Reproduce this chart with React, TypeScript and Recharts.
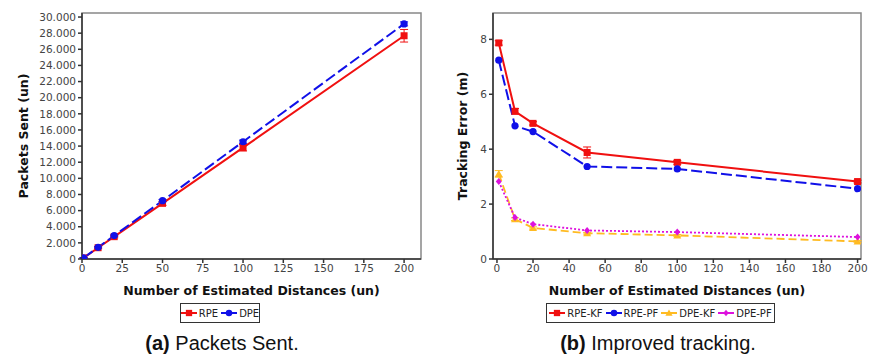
import React from 'react';
import { LineChart, Line, XAxis, YAxis, ErrorBar, ReferenceArea } from 'recharts';

// shared x values (number of estimated distances)
const distances = [1, 10, 20, 50, 100, 200];

// (a) packets sent
const rpeSent = [130, 1400, 2770, 6900, 13800, 27680];
const rpeSentErr = [40, 120, 150, 250, 400, 780];
const dpeSent = [150, 1450, 2900, 7230, 14540, 29150];
const dpeSentErr = [40, 80, 100, 150, 200, 250];
const sentTicks = [0, 2000, 4000, 6000, 8000, 10000, 12000, 14000, 16000, 18000, 20000, 22000, 24000, 26000, 28000, 30000];
const sentDistTicks = [0, 25, 50, 75, 100, 125, 150, 175, 200];

// (b) tracking error
const rpeKf = [7.87, 5.38, 4.94, 3.88, 3.52, 2.82];
const rpeKfErr = [0.08, 0.1, 0.06, 0.2, 0.07, 0.05];
const rpePf = [7.24, 4.85, 4.64, 3.37, 3.28, 2.56];
const dpeKf = [3.1, 1.45, 1.13, 0.94, 0.86, 0.64];
const dpeKfErr = [0.12, 0.05, 0.04, 0.03, 0.03, 0.03];
const dpePf = [2.82, 1.51, 1.27, 1.04, 0.98, 0.8];
const errorTicks = [0, 2, 4, 6, 8];
const errorDistTicks = [0, 20, 40, 60, 80, 100, 120, 140, 160, 180, 200];

const RED = '#f01010';
const BLUE = '#1010e8';
const ORANGE = '#ffbb22';
const MAGENTA = '#dd11dd';

const sentData = distances.map((d, i) => ({
  d, rpe: rpeSent[i], rpeErr: rpeSentErr[i], dpe: dpeSent[i], dpeErr: dpeSentErr[i],
}));

const errorData = distances.map((d, i) => ({
  d, rpeKf: rpeKf[i], rpeKfErr: rpeKfErr[i], rpePf: rpePf[i],
  dpeKf: dpeKf[i], dpeKfErr: dpeKfErr[i], dpePf: dpePf[i],
}));

const fmtDots = (v: number) => String(v).replace(/\B(?=(\d{3})+(?!\d))/g, '.');

type Shape = 'square' | 'circle' | 'triangle' | 'diamond';

const marker = (shape: Shape, color: string, cx: number, cy: number, s = 1) => {
  if (shape === 'square') return <rect x={cx - 3.5 * s} y={cy - 3.5 * s} width={7 * s} height={7 * s} fill={color} />;
  if (shape === 'circle') return <circle cx={cx} cy={cy} r={3.6 * s} fill={color} />;
  if (shape === 'triangle')
    return <polygon points={`${cx},${cy - 4 * s} ${cx + 4 * s},${cy + 3 * s} ${cx - 4 * s},${cy + 3 * s}`} fill={color} />;
  return <polygon points={`${cx},${cy - 3.5 * s} ${cx + 3 * s},${cy} ${cx},${cy + 3.5 * s} ${cx - 3 * s},${cy}`} fill={color} />;
};

const dotOf = (shape: Shape, color: string) => (props: any) => {
  const { cx, cy, index } = props;
  if (cx == null || cy == null) return <g key={index} />;
  return <g key={index}>{marker(shape, color, cx, cy)}</g>;
};

const tickStyle = { fontSize: 10.5, fill: '#444', fontFamily: 'DejaVu Sans' };
const labelStyle = { fontSize: 12.5, fontWeight: 'bold' as const, fill: '#111', fontFamily: 'DejaVu Sans', textAnchor: 'middle' as const };

interface LegendItem { name: string; color: string; shape: Shape; }

const LegendBox = ({ items, left, width }: { items: LegendItem[]; left: number; width: number }) => (
  <div style={{
    position: 'absolute', left, top: 303, width, height: 20, boxSizing: 'border-box',
    border: '1px solid #333', display: 'flex', alignItems: 'center', justifyContent: 'center',
    fontFamily: 'DejaVu Sans', fontSize: 10, color: '#222', gap: 3, whiteSpace: 'nowrap',
  }}>
    {items.map((it) => (
      <span key={it.name} style={{ display: 'flex', alignItems: 'center', flexShrink: 0 }}>
        <svg width={16} height={10} style={{ flexShrink: 0 }}>
          <line x1={0} y1={5} x2={16} y2={5} stroke={it.color} strokeWidth={2} />
          {marker(it.shape, it.color, 8, 5, 0.9)}
        </svg>
        <span style={{ marginLeft: 2 }}>{it.name}</span>
      </span>
    ))}
  </div>
);

const Caption = ({ tag, text, center }: { tag: string; text: string; center: number }) => (
  <div style={{
    position: 'absolute', left: center - 150, width: 300, top: 331, textAlign: 'center',
    fontFamily: 'Liberation Sans', fontSize: 20, lineHeight: '24px', color: '#111', whiteSpace: 'nowrap',
  }}>
    <b>{tag}</b>{' '}{text}
  </div>
);

export default function App() {
  return (
    <div style={{ position: 'absolute', left: 0, top: 0, width: 869, height: 362, background: '#fff' }}>
      <div style={{ position: 'absolute', left: 0, top: 0 }}>
        <LineChart width={435} height={300} data={sentData} margin={{ top: 13, right: 14, left: 0, bottom: 0 }}>
          <ReferenceArea x1={0} x2={210.5} y1={0} y2={30500} fill="none" stroke="#888" strokeWidth={1.5} ifOverflow="visible" />
          <XAxis
            dataKey="d" type="number" domain={[0, 210.5]} ticks={sentDistTicks} height={41}
            tick={tickStyle} tickSize={4} stroke="#333" strokeWidth={1.5} allowDataOverflow
            label={{ value: 'Number of Estimated Distances (un)', position: 'insideBottom', offset: 5, style: labelStyle }}
          />
          <YAxis
            type="number" domain={[0, 30500]} ticks={sentTicks} width={82} tickFormatter={fmtDots}
            tick={tickStyle} tickSize={4} stroke="#333" strokeWidth={1.5} allowDataOverflow
            label={{ value: 'Packets Sent (un)', angle: -90, position: 'insideLeft', offset: 24, style: labelStyle }}
          />
          <Line dataKey="rpe" stroke={RED} strokeWidth={2} dot={dotOf('square', RED)} isAnimationActive={false}>
            <ErrorBar dataKey="rpeErr" direction="y" width={4} stroke={RED} strokeWidth={1} />
          </Line>
          <Line dataKey="dpe" stroke={BLUE} strokeWidth={2} strokeDasharray="11 4" dot={dotOf('circle', BLUE)} isAnimationActive={false}>
            <ErrorBar dataKey="dpeErr" direction="y" width={4} stroke={BLUE} strokeWidth={1} />
          </Line>
        </LineChart>
      </div>
      <LegendBox left={180} width={80} items={[
        { name: 'RPE', color: RED, shape: 'square' },
        { name: 'DPE', color: BLUE, shape: 'circle' },
      ]} />
      <Caption tag="(a)" text="Packets Sent." center={222} />

      <div style={{ position: 'absolute', left: 440, top: 0 }}>
        <LineChart width={429} height={300} data={errorData} margin={{ top: 13, right: 8, left: 0, bottom: 0 }}>
          <ReferenceArea x1={-2.2} x2={201.9} y1={0} y2={8.96} fill="none" stroke="#888" strokeWidth={1.5} ifOverflow="visible" />
          <XAxis
            dataKey="d" type="number" domain={[-2.2, 201.9]} ticks={errorDistTicks} height={41}
            tick={tickStyle} tickSize={4} stroke="#333" strokeWidth={1.5} allowDataOverflow
            label={{ value: 'Number of Estimated Distances (un)', position: 'insideBottom', offset: 5, style: labelStyle }}
          />
          <YAxis
            type="number" domain={[0, 8.96]} ticks={errorTicks} width={53}
            tick={tickStyle} tickSize={4} stroke="#333" strokeWidth={1.5} allowDataOverflow
            label={{ value: 'Tracking Error (m)', angle: -90, position: 'insideLeft', offset: 23, style: labelStyle }}
          />
          <Line dataKey="rpeKf" stroke={RED} strokeWidth={2} dot={dotOf('square', RED)} isAnimationActive={false}>
            <ErrorBar dataKey="rpeKfErr" direction="y" width={4} stroke={RED} strokeWidth={1} />
          </Line>
          <Line dataKey="rpePf" stroke={BLUE} strokeWidth={2} strokeDasharray="11 4" dot={dotOf('circle', BLUE)} isAnimationActive={false} />
          <Line dataKey="dpeKf" stroke={ORANGE} strokeWidth={1.8} strokeDasharray="8 4" dot={dotOf('triangle', ORANGE)} isAnimationActive={false}>
            <ErrorBar dataKey="dpeKfErr" direction="y" width={4} stroke={ORANGE} strokeWidth={1} />
          </Line>
          <Line dataKey="dpePf" stroke={MAGENTA} strokeWidth={1.8} strokeDasharray="2 2" dot={dotOf('diamond', MAGENTA)} isAnimationActive={false} />
        </LineChart>
      </div>
      <LegendBox left={546} width={229} items={[
        { name: 'RPE-KF', color: RED, shape: 'square' },
        { name: 'RPE-PF', color: BLUE, shape: 'circle' },
        { name: 'DPE-KF', color: ORANGE, shape: 'triangle' },
        { name: 'DPE-PF', color: MAGENTA, shape: 'diamond' },
      ]} />
      <Caption tag="(b)" text="Improved tracking." center={658} />
    </div>
  );
}
